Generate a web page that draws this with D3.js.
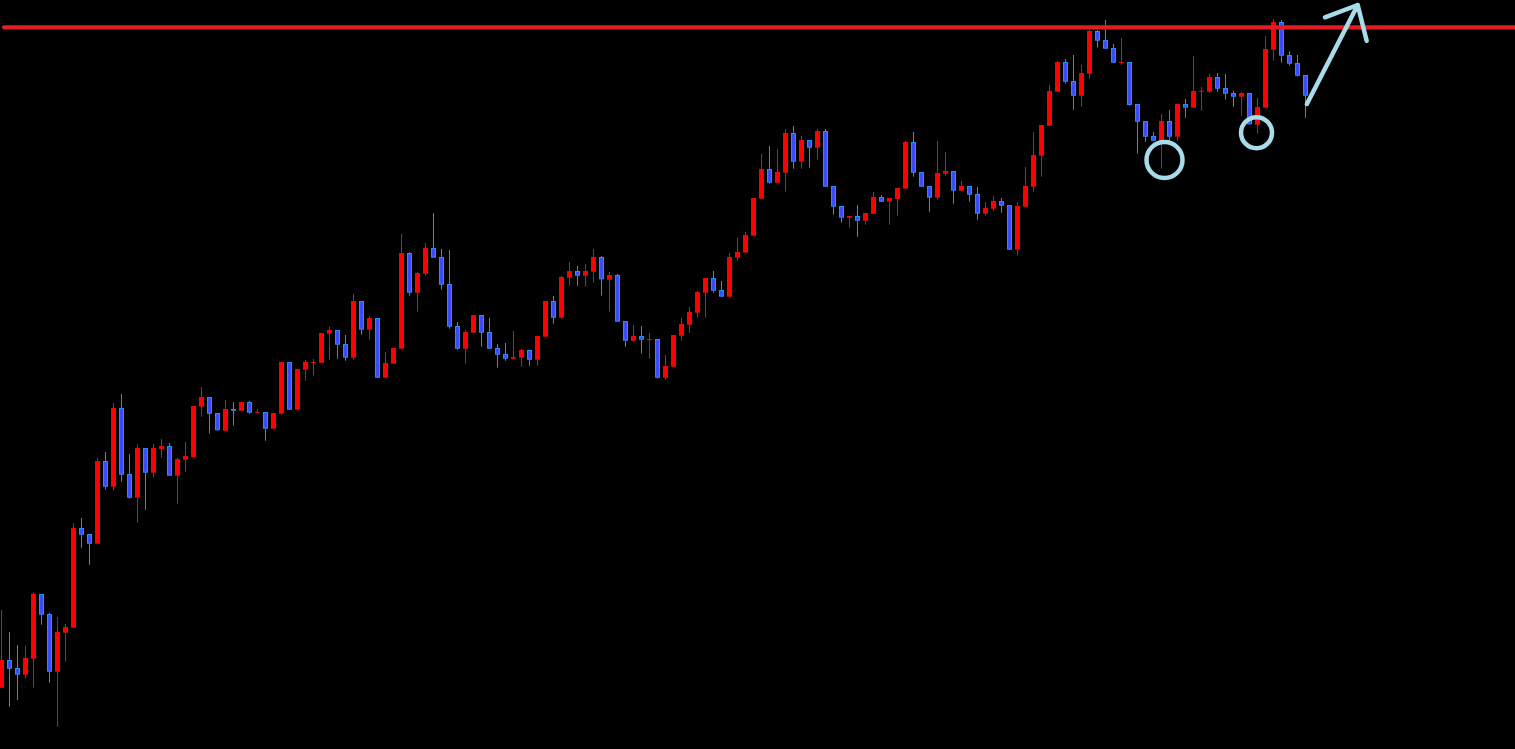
<!DOCTYPE html>
<html>
<head>
<meta charset="utf-8">
<script src="https://cdn.jsdelivr.net/npm/d3@7"></script>
<style>
html,body{margin:0;padding:0;background:#000;overflow:hidden;}
svg{display:block;}
</style>
</head>
<body>
<svg id="chart" width="1515" height="749"></svg>
<script>
const open = [112.3,140,132,125.3,141.3,206,186,128.3,167.3,172.3,272,266,256.3,339,313.3,392,326,302.3,352,327.3,
351,354,324.3,340.3,343,393.3,403,387,369.3,391,389.3,398,387.3,388,371.3,386.3,438,390.3,430.3,437,
437.3,466.3,470,456,442.3,499,470.3,482,422.3,436.3,451.3,547,507.3,526.3,552,543,516,474,451.3,467.3,
485,468,452,446,441.3,442.3,450,440.3,463.3,499,482.3,522.3,529,524.3,528.3,543,520.3,525,479,459.3,
464,460,461,422.3,433.3,464.3,475.3,487.3,507.3,522,510,503.3,542.3,547.3,564.3,601.3,631,617.3,627.3,667,
638.3,660,652.3,669,614,594,582.3,584,579.3,586.3,603,598.3,601,611.3,658,628,614,602.3,626.3,629,
609.3,614,606,586.3,591.3,599,595,550.3,593.3,613.3,644.3,674.3,708.3,738,719,704.3,726.3,769,760,752,
737,738,696,679,664,659.3,679,663.3,696,692.3,708.3,708.3,723,712,707,703.3,707,675.3,692.3,750.3,
778,745,737,725];
const high = [190,168,155,154.3,207.3,206,187,183,176,276.7,282,266,342,348,397,406,346,356,352,356,
361,357,342,358,394,413,403,387,400,398,398,399,391,388,387,438,438,431,440,441,
467,473.3,470,465,506,499,484,482,448,452,566.3,548,528,557,587,551,550,478,470,485,
485,482.3,456,457,469,451,450,464,499,504,524,538,534,536,551,544,528,526,479,475,
474,467,461,445,465,482,493,509,522,529,519,547,562.3,568,602,646.3,654,651,671,674,
664,660,671,671,614,594,584,595,587,608,605,602,612,659,668,628,614,659,648,629,
619,614,613,598,604,602,595,598,633,668,675,715,739,741,745,735,770,770,780,756,
762,738,696,679,668,686,690,696,701,744,713,726,727,726,709.3,708,707,702,764,781,
780,749,745,725];
const low = [112,93.3,100,121.3,112.3,175.3,117.3,73.3,138.3,172.3,252.3,235.3,256.3,310.3,309.3,318.3,301.3,277.3,290.3,322.3,
342.3,324.3,296.3,328.3,342.3,383.3,366.3,369.7,369.3,374.3,389.3,386.3,387.3,359.3,371.3,385.3,390.3,390.3,419.3,424.3,
437.3,440.3,441.3,439.3,440.3,465.3,460.3,422.3,422.3,436.3,451.3,504.3,488.3,524.3,542.3,510.3,471.3,450.3,436.3,467.3,
453.3,451.3,432.3,439.3,441.3,433.3,434.3,434.3,463.3,476.3,481.3,514.3,514.3,513.3,517.3,504.3,488.3,478.3,453.3,458.3,
446.3,441.3,421.3,420.3,433.3,459.3,467.3,482.3,482.3,507.3,503.3,502.3,539.3,547.3,564.3,601.3,616.3,617.3,608.3,631.3,
631.3,632.3,640.3,613.3,585.3,577.3,572.3,563.3,575.3,586.3,598.3,575.3,584.3,611.3,623.3,613.3,588.3,600.3,624.3,596.3,
609.3,598.3,580.3,584.3,589.3,587.3,550.3,544.3,593.3,608.3,623.3,674.3,708.3,716.3,690.3,693.3,721.3,752.3,751.3,737.3,
735,694.3,646.3,658.3,659.3,631.3,658.3,659.3,682.3,692.3,689.3,707.3,708.3,700.3,693.3,684.3,675.7,666.3,692.3,739.3,
737.3,734.3,723.3,682.3];
const close = [140,131.3,125.3,142,206,185.3,128.3,168,173,272,265.3,256.3,339,313.3,392,325.3,302.3,352,327.3,352,
354,324.3,341,344,394,403,386.3,369.7,391,389.3,398,387.3,388.3,371.3,387,438,390.3,431,438,438,
467,470,455.3,442.3,499,470.3,482,422.3,437,452,547,507.3,527,552,542.3,515.3,473.3,451.3,468,485,
467.3,451.3,445.3,441.3,443,450,440.3,464,499,482.3,523,529,524.3,529,543,520.7,525,478.3,459.3,464,
460.3,461,422.3,434,465,476,488,508,522,509.3,503.3,543,548,565,602,631,617.3,628,667,638.3,
660,652.3,669,613.3,593.3,582.3,584,579.3,587,603,598.3,602,612,658,627.3,613.3,602.3,627,629,609.3,
614,605.3,586.3,592,599,594.3,550.3,594,614,645,675,709,738,718.3,704.3,727,769,759.3,751.3,737.3,
738,695,678.3,663.3,659.3,679,663.3,696,692.3,709,709.3,723,711.3,706.3,703.3,707,675.7,693,751,778,
744.3,736.3,724.3,704.3];

// Annotations (in candle-index / price units)
const resistance = 772.7;
const circles = [{i:145.4, p:640, r:18}, {i:156.9, p:667.3, r:15.5}];
const arrowLine = [{i:163.2, p:696}, {i:169.55, p:795}];
const arrowHead = [{i:165.46, p:782.7}, {i:169.55, p:795}, {i:170.67, p:759.3}];

const W = 1515, H = 749;
const svg = d3.select('#chart');
svg.append('rect').attr('width', W).attr('height', H).attr('fill', '#000');

const x = d3.scaleLinear().domain([0, open.length - 1]).range([1.3, 1305.3]);
const y = d3.scaleLinear().domain([51, 800]).range([H, 0]);

const data = open.map((o, i) => ({i, o, h: high[i], l: low[i], c: close[i]}));

const RED = '#ff0000', BLUE_FILL = '#3a4cff', BLUE_LINE = '#1e90ff';

const g = svg.append('g');
const cand = g.selectAll('g.c').data(data).join('g').attr('class', 'c');

cand.append('line')
  .attr('x1', d => Math.floor(x(d.i)) + 0.5)
  .attr('x2', d => Math.floor(x(d.i)) + 0.5)
  .attr('y1', d => y(d.h))
  .attr('y2', d => y(d.l))
  .attr('stroke', d => d.c >= d.o ? RED : BLUE_LINE)
  .attr('stroke-width', 1);

cand.each(function(d) {
  const cx = Math.floor(x(d.i)) + 0.5;
  const top = y(Math.max(d.o, d.c));
  const bot = y(Math.min(d.o, d.c));
  const hgt = Math.max(1, bot - top);
  const sel = d3.select(this);
  if (d.c >= d.o) {
    sel.append('rect')
      .attr('x', cx - 2.5).attr('width', 5)
      .attr('y', top).attr('height', hgt)
      .attr('fill', RED);
  } else {
    sel.append('rect')
      .attr('x', cx - 2).attr('width', 4)
      .attr('y', top + 0.5).attr('height', Math.max(0.5, hgt - 1))
      .attr('fill', BLUE_FILL)
      .attr('stroke', BLUE_LINE).attr('stroke-width', 1);
  }
});

// resistance line
svg.append('line')
  .attr('x1', 4).attr('x2', W)
  .attr('y1', y(resistance)).attr('y2', y(resistance))
  .attr('stroke', '#e31b23').attr('stroke-width', 4.3)
  .attr('stroke-linecap', 'round');

const ANN = '#a9dcea';
svg.selectAll('circle.mark').data(circles).join('circle')
  .attr('class', 'mark')
  .attr('cx', d => x(d.i)).attr('cy', d => y(d.p)).attr('r', d => d.r)
  .attr('fill', 'none').attr('stroke', ANN).attr('stroke-width', 4.5);

const ln = d3.line().x(d => x(d.i)).y(d => y(d.p));
svg.append('path').attr('d', ln(arrowLine))
  .attr('fill', 'none').attr('stroke', ANN).attr('stroke-width', 4.5).attr('stroke-linecap', 'round');
svg.append('path').attr('d', ln(arrowHead))
  .attr('fill', 'none').attr('stroke', ANN).attr('stroke-width', 4.5)
  .attr('stroke-linecap', 'round').attr('stroke-linejoin', 'round');
</script>
</body>
</html>
